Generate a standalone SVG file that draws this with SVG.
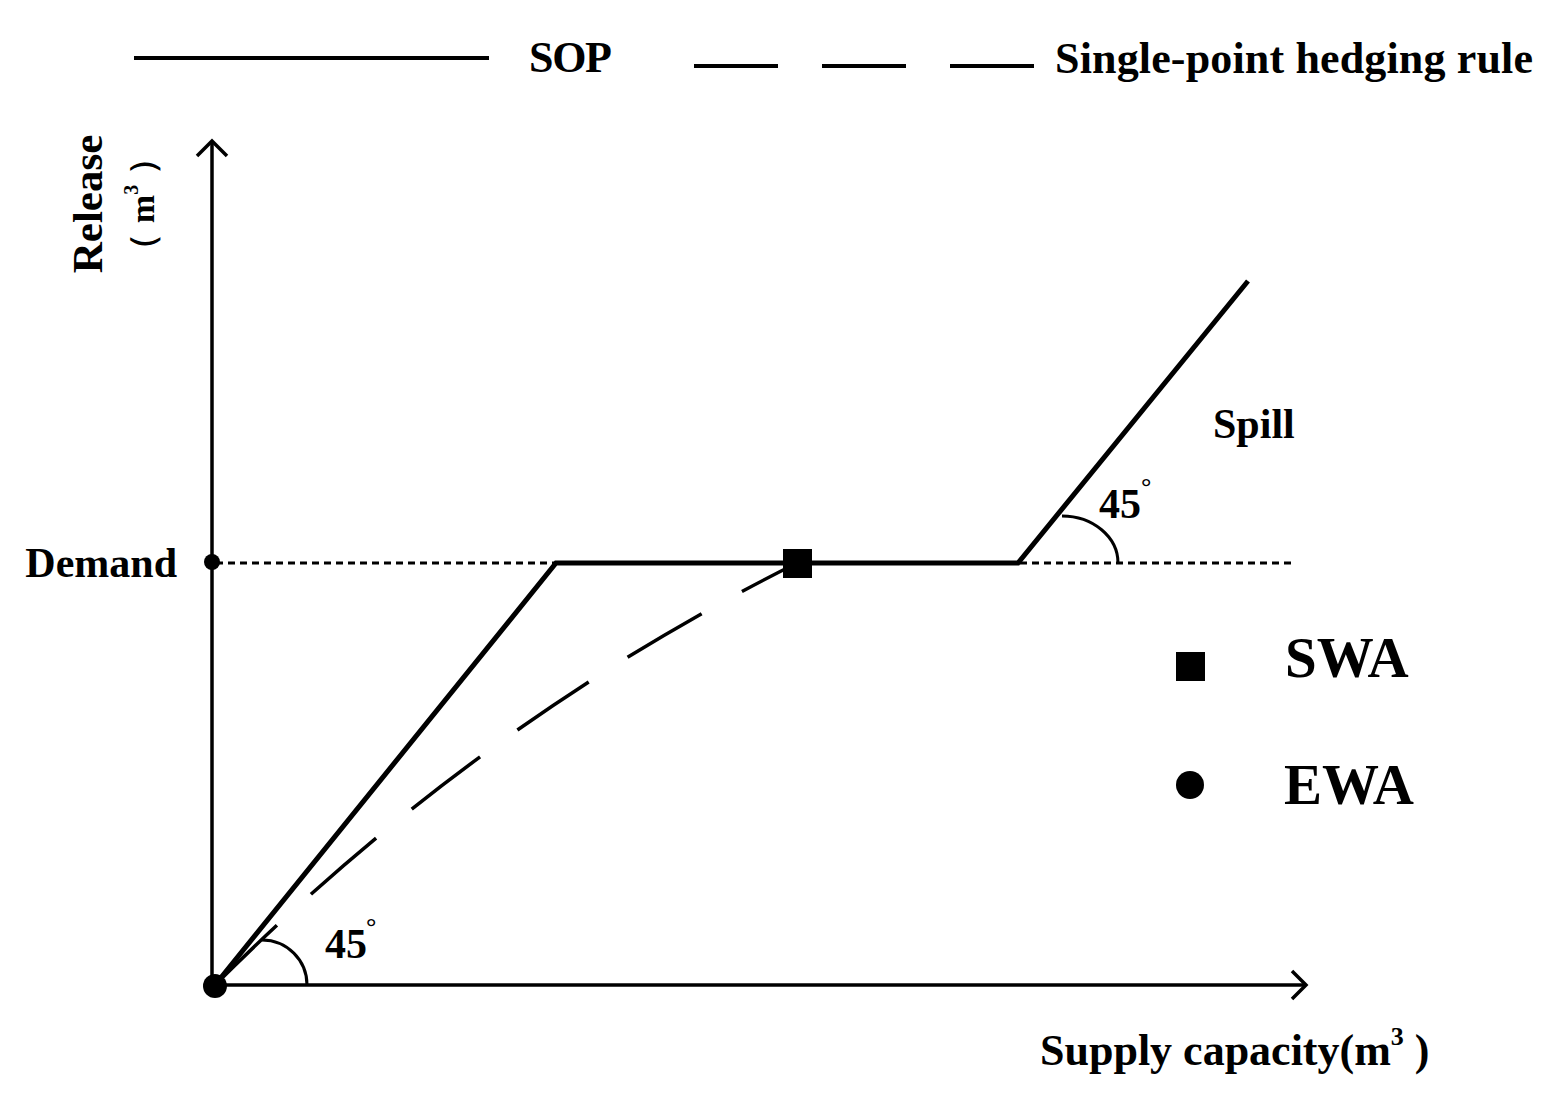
<svg xmlns="http://www.w3.org/2000/svg" width="1555" height="1115" viewBox="0 0 1555 1115">
<style>
.t{font-family:"Liberation Serif","Times New Roman",serif;font-weight:bold;fill:#000}
.ax{stroke:#000;stroke-width:3.5;fill:none}
.sop{stroke:#000;stroke-width:5;fill:none;stroke-linejoin:miter}
.hedge{stroke:#000;stroke-width:3.5;fill:none;stroke-dasharray:86 46}
.dem{stroke:#000;stroke-width:3;fill:none;stroke-dasharray:7 5}
.arc{stroke:#000;stroke-width:3;fill:none}
</style>
<rect width="1555" height="1115" fill="#fff"/>
<g id="legend">
<line x1="134" y1="58" x2="489" y2="58" stroke="#000" stroke-width="4"/>
<text class="t" x="529" y="72" font-size="44" textLength="83">SOP</text>
<line x1="694" y1="66" x2="1034" y2="66" stroke="#000" stroke-width="4" stroke-dasharray="84 44"/>
<text class="t" x="1055" y="73" font-size="44" textLength="478">Single-point hedging rule</text>
</g>
<g id="axes">
<line class="ax" x1="212" y1="985" x2="212" y2="143"/>
<polyline class="ax" points="197,156 212,141 227,156"/>
<line class="ax" x1="212" y1="985" x2="1305" y2="985"/>
<polyline class="ax" points="1292,971 1306,985 1292,999"/>
<text class="t" font-size="43" transform="translate(102,204) rotate(-90)" text-anchor="middle">Release</text>
<text class="t" font-size="34" transform="translate(154,204) rotate(-90)" text-anchor="middle">（<tspan dx="10">m</tspan><tspan font-size="20" dy="-16">3</tspan><tspan dx="10" dy="16">）</tspan></text>
<text class="t" x="1040" y="1065" font-size="44">Supply capacity(m<tspan font-size="26" dy="-20">3</tspan><tspan dy="20"> )</tspan></text>
</g>
<g id="demand">
<line class="dem" x1="216" y1="563" x2="1295" y2="563"/>
<circle cx="212" cy="562" r="8" fill="#000"/>
<text class="t" x="177" y="577" font-size="42" text-anchor="end">Demand</text>
</g>
<g id="connectors">
<path class="hedge" d="M215,985 Q477,723 797,563"/>
<polyline class="sop" points="215,985 556,563 1018,563 1248,281"/>
<path class="arc" d="M262,940 A45,45 0 0 1 307,985"/>
<path class="arc" d="M1062,516 A56,47 0 0 1 1118,563"/>
</g>
<g id="labels">
<text class="t" x="325" y="958" font-size="42">45</text>
<text class="t" x="366" y="935" font-size="26" font-weight="normal">°</text>
<text class="t" x="1099" y="518" font-size="42">45</text>
<text class="t" x="1141" y="495" font-size="26" font-weight="normal">°</text>
<text class="t" x="1213" y="438" font-size="42">Spill</text>
</g>
<g id="swa-point"><rect x="783" y="549" width="29" height="29" fill="#000"/></g>
<g id="ewa-point"><circle cx="215" cy="986" r="12" fill="#000"/></g>
<g id="key">
<rect x="1176" y="652" width="29" height="29" fill="#000"/>
<text class="t" x="1285" y="677" font-size="57">SWA</text>
<circle cx="1190" cy="785" r="14" fill="#000"/>
<text class="t" x="1284" y="804" font-size="57">EWA</text>
</g>
</svg>
